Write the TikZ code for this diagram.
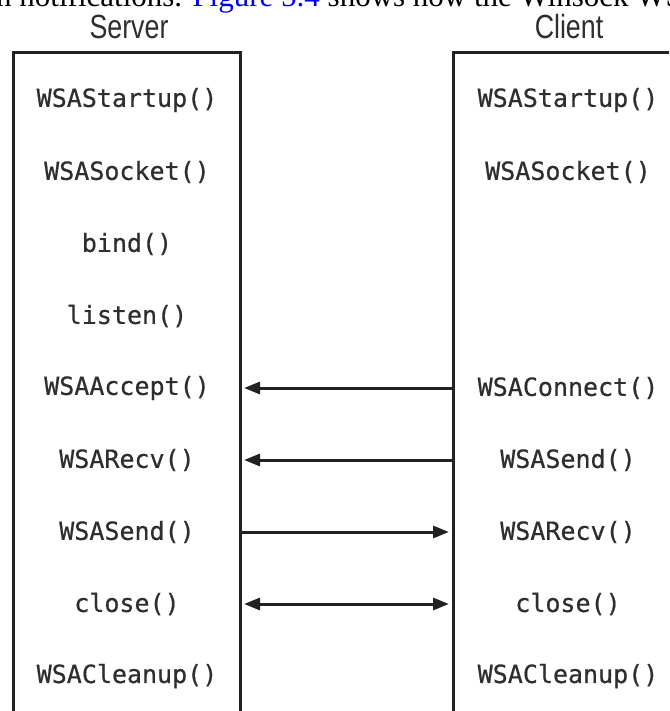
\documentclass[tikz,border=0pt]{standalone}
\usepackage{fontspec}
\setmainfont{Liberation Serif}
\newfontfamily\codefont[FakeBold=0.6]{DejaVu Sans Mono}
\newfontfamily\headfont[FakeStretch=0.8]{Liberation Sans}
\usetikzlibrary{arrows.meta}
\definecolor{ink}{HTML}{222222}
\definecolor{txt}{HTML}{2E2E2E}
\definecolor{linkblue}{HTML}{0000EE}
\begin{document}
\begin{tikzpicture}[x=1pt,y=-1pt,
  lane/.style={draw=ink, line width=3pt, outer sep=0pt, inner sep=0pt, anchor=north west},
  call/.style={font=\codefont\fontsize{25}{25}\selectfont, text=txt, inner sep=0pt},
  head/.style={font=\headfont\fontsize{33.5}{33.5}\selectfont, text=txt, inner sep=0pt, anchor=base},
  tipp/.tip={Triangle[length=16pt,width=12pt]},
  msg/.style={draw=ink, line width=3pt, -tipp, shorten >=4pt},
  msgboth/.style={draw=ink, line width=3pt, tipp-tipp, shorten >=4pt, shorten <=4pt}
]
\useasboundingbox (0,0) rectangle (669,711);
\clip (0,0) rectangle (669,711);

\node[anchor=base west, inner sep=0pt, font=\fontsize{31}{31}\selectfont] (intro) at (-4,7)
  {n notifications. \textcolor{linkblue}{Figure 5.4} shows how the Winsock WS};

\node[head] (hs) at (129,39) {Server};
\node[head] (hc) at (569,39) {Client};

\node[lane, minimum width=227pt, minimum height=700pt] (srv) at (13,53) {};
\node[lane, minimum width=232pt, minimum height=700pt] (cli) at (453,53) {};

\node[call] (s1) at (127,100) {WSAStartup()};
\node[call] (s2) at (127,172) {WSASocket()};
\node[call] (s3) at (127,244) {bind()};
\node[call] (s4) at (127,316) {listen()};
\node[call] (s5) at (127,388) {WSAAccept()};
\node[call] (s6) at (127,460) {WSARecv()};
\node[call] (s7) at (127,532) {WSASend()};
\node[call] (s8) at (127,604) {close()};
\node[call] (s9) at (127,676) {WSACleanup()};

\node[call] (c1) at (568,100) {WSAStartup()};
\node[call] (c2) at (568,172) {WSASocket()};
\node[call] (c5) at (568,388) {WSAConnect()};
\node[call] (c6) at (568,460) {WSASend()};
\node[call] (c7) at (568,532) {WSARecv()};
\node[call] (c8) at (568,604) {close()};
\node[call] (c9) at (568,676) {WSACleanup()};

\draw[msg] (c5.center -| cli.west) -- (s5.center -| srv.east);
\draw[msg] (c6.center -| cli.west) -- (s6.center -| srv.east);
\draw[msg] (s7.center -| srv.east) -- (c7.center -| cli.west);
\draw[msgboth] (s8.center -| srv.east) -- (c8.center -| cli.west);
\end{tikzpicture}
\end{document}
